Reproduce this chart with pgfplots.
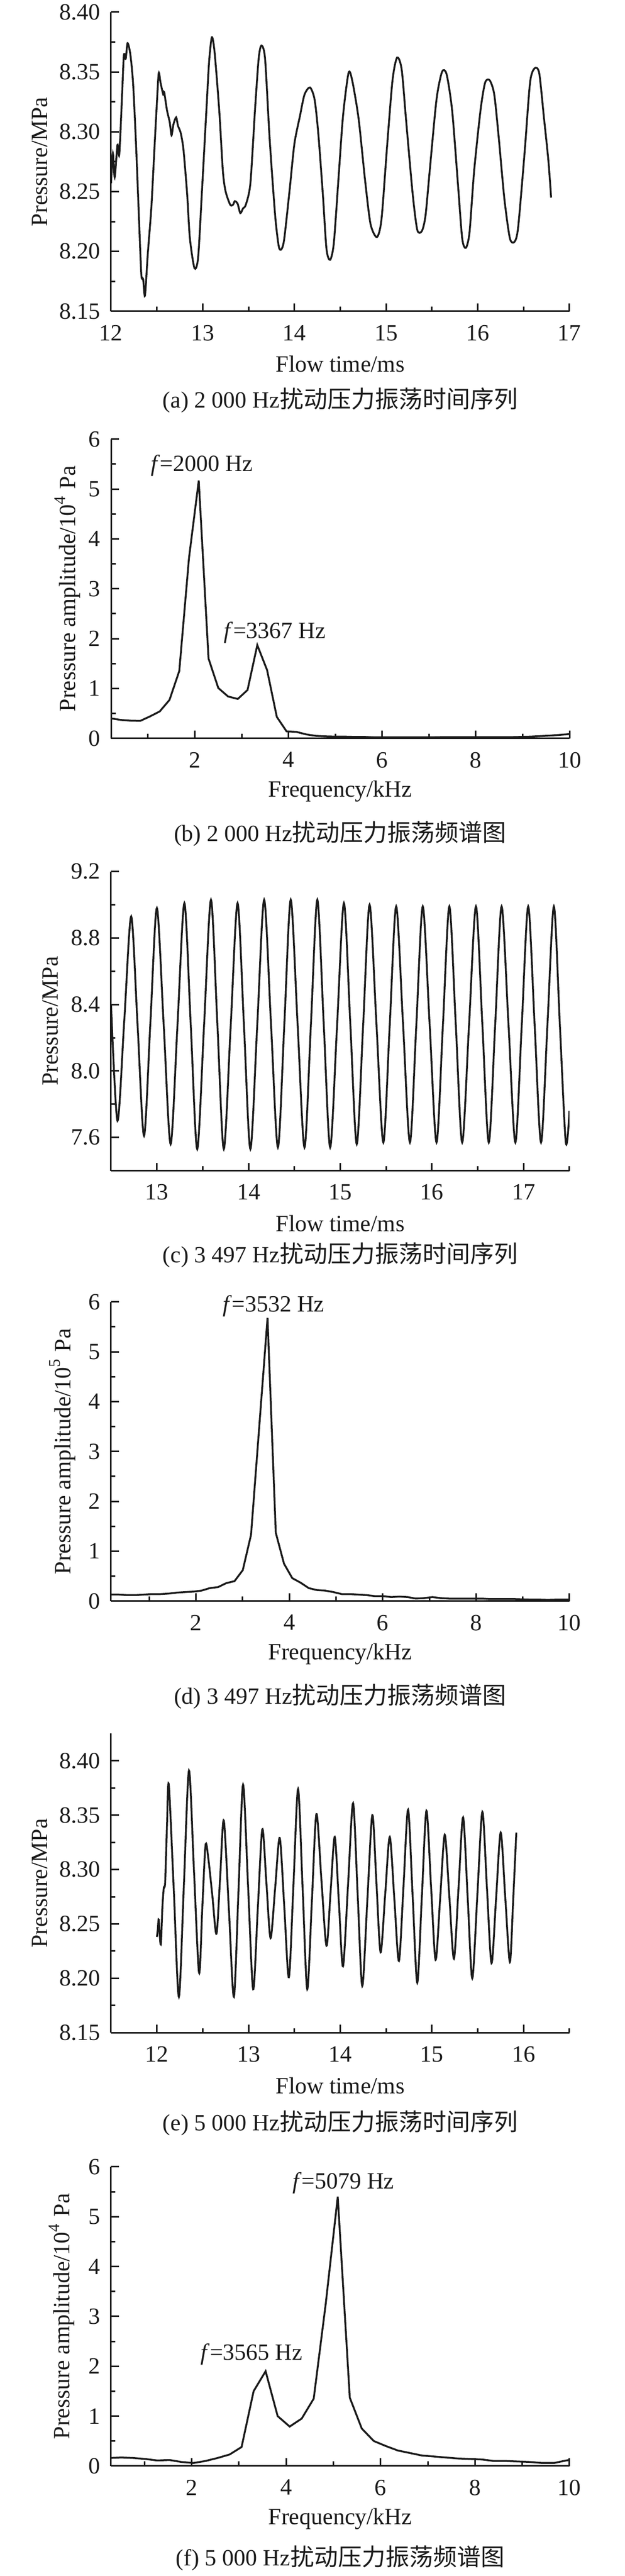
\documentclass[border=0pt]{standalone}
\usepackage{fontspec}
\setmainfont{Liberation Serif}
\newfontfamily\cjk{Noto Sans CJK SC}
\usepackage{pgfplots}
\pgfplotsset{compat=1.18}
\newcommand\fs{\fontsize{8.8pt}{10.5pt}\selectfont}
\newcommand\cjkfs{\cjk\fontsize{9pt}{10.5pt}\selectfont}
\definecolor{ink}{HTML}{1A1A1A}
\pgfplotsset{
  myax/.style={
    scale only axis, width=173.4pt, height=113.2pt,
    axis lines*=left, tick align=inside,
    major tick length=3pt, minor tick length=1.7pt,
    axis line style={line width=0.6pt, ink},
    every tick/.style={line width=0.6pt, ink},
    tick label style={font=\fs, text=ink},
    label style={font=\fs, text=ink},
    /pgf/number format/assume math mode=true,
    xticklabel style={yshift=-1.7pt},
    yticklabel style={xshift=-0.5pt},
    xlabel style={at={(axis description cs:0.5,0)}, anchor=center, yshift=-20pt},
    clip mode=individual,
  },
  ts/.style={myax, xlabel={Flow time/ms}, ylabel={Pressure/MPa}},
  sp/.style={myax, xlabel={Frequency/kHz}, ymin=0, ymax=6, ytick={0,1,2,3,4,5,6},
    minor y tick num=1, xmax=10, xtick={2,4,6,8,10}, minor xtick={1,3,5,7,9}},
  ln/.style={ink, line width=0.7pt, no markers},
}
\begin{document}
\begin{tikzpicture}
\useasboundingbox (0,0) rectangle (236.2pt,-974.6pt);
% (a)
\begin{axis}[ts, at={(42pt,-117.76pt)}, anchor=south west,
  xmin=12, xmax=17, ymin=8.15, ymax=8.40,
  xtick={12,13,14,15,16,17}, minor xtick={12.5,13.5,14.5,15.5,16.5},
  ytick={8.15,8.2,8.25,8.3,8.35,8.4}, minor ytick={8.175,8.225,8.275,8.325,8.375},
  yticklabel style={/pgf/number format/.cd, fixed, fixed zerofill, precision=2},
  ylabel style={at={(axis description cs:-0.155,0.5)}, anchor=center}]
\addplot[ln, smooth, tension=0.45] coordinates {
(12.00,8.257)(12.02,8.282)(12.04,8.262)(12.07,8.289)(12.09,8.281)(12.12,8.33)(12.14,8.364)(12.16,8.361)(12.18,8.374)(12.21,8.365)(12.24,8.341)(12.27,8.294)(12.30,8.237)(12.33,8.181)(12.35,8.177)(12.37,8.163)(12.40,8.197)(12.44,8.237)(12.47,8.281)(12.50,8.324)(12.52,8.349)(12.54,8.341)(12.57,8.331)(12.58,8.333)(12.61,8.318)(12.64,8.308)(12.66,8.297)(12.68,8.306)(12.71,8.312)(12.73,8.305)(12.76,8.299)(12.79,8.285)(12.83,8.248)(12.86,8.211)(12.91,8.186)(12.95,8.195)(12.99,8.248)(13.04,8.318)(13.07,8.359)(13.10,8.379)(13.13,8.366)(13.18,8.318)(13.22,8.267)(13.25,8.250)(13.30,8.239)(13.33,8.239)(13.35,8.242)(13.38,8.240)(13.41,8.232)(13.44,8.236)(13.47,8.239)(13.52,8.257)(13.57,8.318)(13.61,8.361)(13.64,8.372)(13.68,8.361)(13.73,8.294)(13.79,8.230)(13.83,8.204)(13.86,8.202)(13.89,8.211)(13.95,8.253)(14.00,8.290)(14.06,8.313)(14.11,8.331)(14.17,8.337)(14.22,8.327)(14.26,8.299)(14.31,8.248)(14.35,8.202)(14.39,8.193)(14.43,8.207)(14.48,8.260)(14.53,8.313)(14.59,8.349)(14.63,8.343)(14.70,8.311)(14.77,8.260)(14.83,8.223)(14.90,8.212)(14.95,8.227)(15.01,8.287)(15.07,8.343)(15.12,8.362)(15.17,8.352)(15.22,8.308)(15.29,8.248)(15.34,8.218)(15.39,8.217)(15.43,8.230)(15.48,8.271)(15.55,8.327)(15.61,8.350)(15.66,8.348)(15.72,8.318)(15.78,8.260)(15.83,8.211)(15.87,8.203)(15.91,8.216)(15.96,8.267)(16.03,8.318)(16.08,8.341)(16.13,8.343)(16.18,8.331)(16.23,8.294)(16.29,8.244)(16.35,8.211)(16.40,8.208)(16.44,8.220)(16.51,8.282)(16.57,8.341)(16.62,8.353)(16.67,8.349)(16.72,8.313)(16.77,8.276)(16.80,8.245)};
\end{axis}
\node[font=\fs, text=ink] at (128.7pt,-151.5pt) {(a) 2 000 Hz{\cjkfs 扰动压力振荡时间序列}};
% (b)
\begin{axis}[sp, at={(42pt,-279.34pt)}, anchor=south west, xmin=0.21,
  ylabel={Pressure amplitude/10\textsuperscript{4} Pa},
  ylabel style={at={(axis description cs:-0.095,0.5)}, anchor=center}]
\addplot[ln] coordinates {
(0.208,0.40)(0.417,0.37)(0.625,0.355)(0.833,0.35)(1.042,0.44)(1.250,0.54)(1.458,0.77)(1.667,1.35)(1.875,3.62)(2.083,5.17)(2.292,1.60)(2.500,1.01)(2.708,0.84)(2.917,0.79)(3.125,0.97)(3.333,1.87)(3.542,1.37)(3.750,0.43)(3.958,0.14)(4.167,0.13)(4.375,0.08)(4.583,0.05)(4.792,0.04)(5.000,0.035)(5.208,0.035)(5.417,0.03)(5.625,0.03)(5.833,0.02)(6.042,0.02)(6.250,0.02)(6.458,0.02)(6.667,0.02)(6.875,0.02)(7.083,0.02)(7.292,0.025)(7.500,0.025)(7.708,0.025)(7.917,0.025)(8.125,0.025)(8.333,0.025)(8.542,0.025)(8.750,0.025)(8.958,0.03)(9.167,0.035)(9.375,0.045)(9.583,0.055)(9.792,0.07)(10.000,0.085)};
\node[font=\fs, text=ink] at (axis cs:2.15,5.47) {\textit{f}=2000 Hz};
\node[font=\fs, text=ink] at (axis cs:3.71,2.12) {\textit{f}=3367 Hz};
\end{axis}
\node[font=\fs, text=ink] at (128.7pt,-315.4pt) {(b) 2 000 Hz{\cjkfs 扰动压力振荡频谱图}};
% (c)
\begin{axis}[ts, at={(42pt,-442.92pt)}, anchor=south west,
  xmin=12.5, xmax=17.5, ymin=7.4, ymax=9.2,
  xtick={13,14,15,16,17}, minor xtick={12.5,13.5,14.5,15.5,16.5,17.5},
  ytick={7.6,8.0,8.4,8.8,9.2}, minor ytick={7.4,7.8,8.2,8.6,9.0},
  yticklabel style={/pgf/number format/.cd, fixed, fixed zerofill, precision=1},
  ylabel style={at={(axis description cs:-0.132,0.5)}, anchor=center}]
\addplot[ln, smooth] coordinates {
(12.50,8.40)(12.57,7.70)(12.645,8.31)(12.72,8.93)(12.79,8.27)(12.86,7.61)(12.93,8.30)(13.00,8.98)(13.075,8.27)(13.15,7.56)(13.225,8.28)(13.30,9.01)(13.37,8.27)(13.44,7.53)(13.515,8.28)(13.59,9.03)(13.66,8.28)(13.73,7.53)(13.805,8.27)(13.88,9.01)(13.95,8.27)(14.02,7.53)(14.095,8.28)(14.17,9.03)(14.245,8.28)(14.32,7.54)(14.39,8.28)(14.46,9.03)(14.535,8.28)(14.61,7.54)(14.68,8.28)(14.75,9.03)(14.82,8.28)(14.89,7.54)(14.965,8.27)(15.04,9.01)(15.11,8.28)(15.18,7.56)(15.25,8.28)(15.32,9.00)(15.395,8.28)(15.47,7.57)(15.54,8.28)(15.61,8.99)(15.685,8.28)(15.76,7.57)(15.83,8.28)(15.90,8.99)(15.975,8.28)(16.05,7.57)(16.12,8.28)(16.19,8.99)(16.26,8.28)(16.33,7.57)(16.405,8.28)(16.48,8.99)(16.55,8.28)(16.62,7.57)(16.69,8.28)(16.76,8.99)(16.835,8.28)(16.91,7.57)(16.98,8.28)(17.05,8.99)(17.12,8.28)(17.19,7.57)(17.26,8.28)(17.33,8.99)(17.395,8.28)(17.46,7.57)(17.50,7.76)};
\end{axis}
\node[font=\fs, text=ink] at (128.7pt,-474.8pt) {(c) 3 497 Hz{\cjkfs 扰动压力振荡时间序列}};
% (d)
\begin{axis}[sp, at={(42pt,-605.74pt)}, anchor=south west, xmin=0.18,
  ylabel={Pressure amplitude/10\textsuperscript{5} Pa},
  ylabel style={at={(axis description cs:-0.106,0.5)}, anchor=center}]
\addplot[ln] coordinates {
(0.177,0.13)(0.353,0.13)(0.530,0.12)(0.706,0.12)(0.883,0.13)(1.060,0.14)(1.236,0.14)(1.413,0.15)(1.589,0.17)(1.766,0.18)(1.943,0.19)(2.119,0.21)(2.296,0.26)(2.472,0.28)(2.649,0.36)(2.826,0.40)(3.002,0.62)(3.179,1.33)(3.355,3.50)(3.532,5.68)(3.709,1.37)(3.885,0.75)(4.062,0.46)(4.238,0.37)(4.415,0.26)(4.592,0.22)(4.768,0.21)(4.945,0.18)(5.121,0.14)(5.298,0.14)(5.475,0.13)(5.651,0.12)(5.828,0.10)(6.004,0.10)(6.181,0.08)(6.358,0.09)(6.534,0.08)(6.711,0.05)(6.887,0.06)(7.064,0.08)(7.240,0.06)(7.417,0.05)(7.594,0.05)(7.770,0.05)(7.947,0.05)(8.124,0.05)(8.300,0.04)(8.477,0.04)(8.654,0.04)(8.830,0.04)(9.007,0.035)(9.183,0.03)(9.360,0.03)(9.537,0.025)(9.713,0.03)(9.890,0.03)(10.066,0.03)};
\node[font=\fs, text=ink] at (axis cs:3.66,5.92) {\textit{f}=3532 Hz};
\end{axis}
\node[font=\fs, text=ink] at (128.7pt,-641.8pt) {(d) 3 497 Hz{\cjkfs 扰动压力振荡频谱图}};
% (e)
\begin{axis}[ts, at={(42pt,-769.06pt)}, anchor=south west,
  xmin=11.5, xmax=16.5, ymin=8.15, ymax=8.425,
  xtick={12,13,14,15,16}, minor xtick={12.5,13.5,14.5,15.5,16.5},
  ytick={8.15,8.2,8.25,8.3,8.35,8.4}, minor ytick={8.175,8.225,8.275,8.325,8.375},
  yticklabel style={/pgf/number format/.cd, fixed, fixed zerofill, precision=2},
  ylabel style={at={(axis description cs:-0.155,0.5)}, anchor=center}]
\addplot[ln, smooth, tension=0.5] coordinates {
(12.00,8.238)(12.01,8.245)(12.02,8.254)(12.035,8.235)(12.045,8.233)(12.06,8.265)(12.075,8.283)(12.09,8.288)(12.11,8.34)(12.13,8.378)(12.185,8.28)(12.24,8.183)(12.295,8.287)(12.35,8.391)(12.405,8.298)(12.46,8.205)(12.495,8.264)(12.53,8.322)(12.56,8.311)(12.605,8.276)(12.65,8.241)(12.69,8.293)(12.73,8.345)(12.785,8.264)(12.84,8.183)(12.89,8.280)(12.94,8.378)(12.995,8.284)(13.05,8.190)(13.10,8.263)(13.15,8.337)(13.195,8.287)(13.24,8.237)(13.29,8.283)(13.34,8.329)(13.39,8.265)(13.44,8.201)(13.49,8.287)(13.54,8.374)(13.59,8.282)(13.64,8.190)(13.69,8.270)(13.74,8.351)(13.795,8.290)(13.85,8.230)(13.895,8.280)(13.94,8.330)(13.985,8.270)(14.03,8.211)(14.085,8.286)(14.14,8.361)(14.19,8.277)(14.24,8.193)(14.295,8.271)(14.35,8.350)(14.395,8.287)(14.44,8.224)(14.49,8.277)(14.54,8.330)(14.59,8.273)(14.64,8.216)(14.69,8.285)(14.74,8.355)(14.79,8.275)(14.84,8.196)(14.89,8.275)(14.94,8.354)(14.99,8.285)(15.04,8.217)(15.09,8.274)(15.14,8.332)(15.19,8.275)(15.24,8.218)(15.29,8.283)(15.34,8.348)(15.39,8.274)(15.44,8.200)(15.495,8.276)(15.55,8.353)(15.60,8.283)(15.65,8.214)(15.70,8.274)(15.75,8.334)(15.80,8.274)(15.85,8.215)(15.885,8.270)(15.92,8.334)};
\end{axis}
\node[font=\fs, text=ink] at (128.7pt,-803.2pt) {(e) 5 000 Hz{\cjkfs 扰动压力振荡时间序列}};
% (f)
\begin{axis}[sp, at={(42pt,-932.96pt)}, anchor=south west, xmin=0.29,
  ylabel={Pressure amplitude/10\textsuperscript{4} Pa},
  ylabel style={at={(axis description cs:-0.108,0.5)}, anchor=center}]
\addplot[ln] coordinates {
(0.255,0.16)(0.509,0.17)(0.764,0.16)(1.018,0.14)(1.273,0.11)(1.528,0.12)(1.782,0.08)(2.037,0.06)(2.291,0.10)(2.546,0.16)(2.801,0.23)(3.055,0.38)(3.310,1.50)(3.564,1.90)(3.819,1.00)(4.074,0.79)(4.328,0.95)(4.583,1.35)(4.837,3.25)(5.092,5.40)(5.347,1.37)(5.601,0.75)(5.856,0.50)(6.110,0.40)(6.365,0.31)(6.620,0.26)(6.874,0.21)(7.129,0.19)(7.383,0.17)(7.638,0.15)(7.893,0.14)(8.147,0.13)(8.402,0.10)(8.656,0.10)(8.911,0.09)(9.166,0.08)(9.420,0.06)(9.675,0.06)(9.930,0.11)(10.000,0.12)};
\node[font=\fs, text=ink] at (axis cs:5.21,5.67) {\textit{f}=5079 Hz};
\node[font=\fs, text=ink] at (axis cs:3.27,2.24) {\textit{f}=3565 Hz};
\end{axis}
\node[font=\fs, text=ink] at (128.7pt,-967.9pt) {(f) 5 000 Hz{\cjkfs 扰动压力振荡频谱图}};
\end{tikzpicture}
\end{document}
